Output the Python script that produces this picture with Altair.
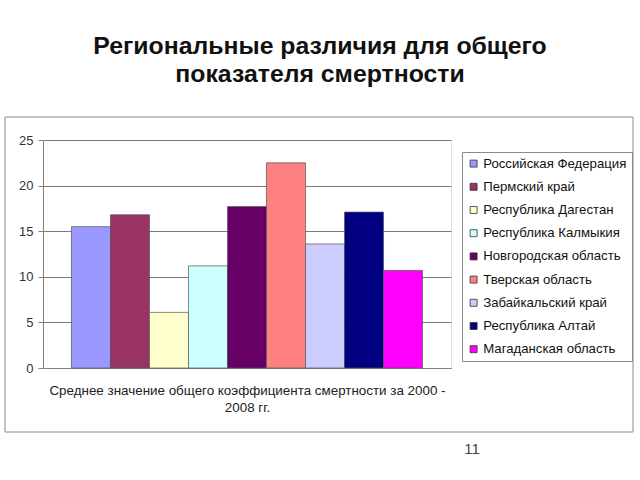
import altair as alt
import pandas as pd

regions = [
    "Российская Федерация",
    "Пермский край",
    "Республика Дагестан",
    "Республика Калмыкия",
    "Новгородская область",
    "Тверская область",
    "Забайкальский край",
    "Республика Алтай",
    "Магаданская область",
]
values = [15.5, 16.8, 6.1, 11.2, 17.7, 22.5, 13.6, 17.1, 10.7]
colors = ["#9999FF", "#993366", "#FFFFCC", "#CCFFFF", "#660066",
          "#FF8080", "#CCCCFF", "#000080", "#FF00FF"]
y_ticks = [0, 5, 10, 15, 20, 25]
title_lines = ["Региональные различия для общего", "показателя смертности"]
x_title = ["Среднее значение общего коэффициента смертности за 2000 -", "2008 гг."]
page_number = "11"

df = pd.DataFrame({"region": regions, "value": values})

FONT = "Liberation Sans"

frame = alt.Chart(alt.Data(values=[{}])).mark_rect(
    fillOpacity=0, stroke="#8a8a8a", strokeWidth=1
).encode(
    x=alt.value(-38), x2=alt.value(590), y=alt.value(-23), y2=alt.value(292)
)

bars = alt.Chart(df).mark_bar(stroke="#555555", strokeWidth=0.7).encode(
    x=alt.X(
        "region:N",
        sort=regions,
        scale=alt.Scale(paddingInner=0, paddingOuter=0.73),
        axis=alt.Axis(labels=False, ticks=False, domainColor="#808080",
                      title=x_title, titleFont=FONT, titleFontSize=13.4,
                      titleFontWeight="normal", titleColor="#222222",
                      titlePadding=15, titleLineHeight=17),
    ),
    y=alt.Y(
        "value:Q",
        scale=alt.Scale(domain=[0, 25]),
        axis=alt.Axis(values=y_ticks, title=None, labelFont=FONT, labelFontSize=13,
                      labelColor="#333333", tickColor="#808080", tickSize=5,
                      domainColor="#808080", gridColor="#7a7a7a", labelPadding=5),
    ),
    color=alt.Color(
        "region:N",
        sort=regions,
        scale=alt.Scale(domain=regions, range=colors),
        legend=alt.Legend(
            title=None, orient="none", legendX=419, legendY=12,
            symbolType="square", symbolSize=49, symbolStrokeColor="#333333",
            symbolStrokeWidth=0.8, labelFont=FONT, labelFontSize=13.2,
            labelColor="#111111", labelLimit=300, rowPadding=9.2,
            strokeColor="#8a8a8a", fillColor="white", padding=5,
            symbolOffset=0, labelOffset=3,
        ),
    ),
)

page = alt.Chart(alt.Data(values=[{}])).mark_text(
    text=page_number, font=FONT, fontSize=15, color="#444444"
).encode(x=alt.value(429), y=alt.value(309))

chart = alt.layer(frame, bars, page).properties(
    width=408,
    height=228,
    title=alt.TitleParams(
        text=title_lines, font=FONT, fontSize=24.8, fontWeight="bold",
        color="#111111", anchor="middle", frame="group", dx=73,
        offset=30, lineHeight=28,
    ),
    padding={"left": 43, "top": 140, "right": 189, "bottom": 112},
    autosize=alt.AutoSizeParams(type="none"),
).configure_view(
    fill="#C0C0C0", stroke="#a0a0a0"
).configure(background="white")

chart.save("out.html", embed_options={"renderer": "svg", "actions": False})
